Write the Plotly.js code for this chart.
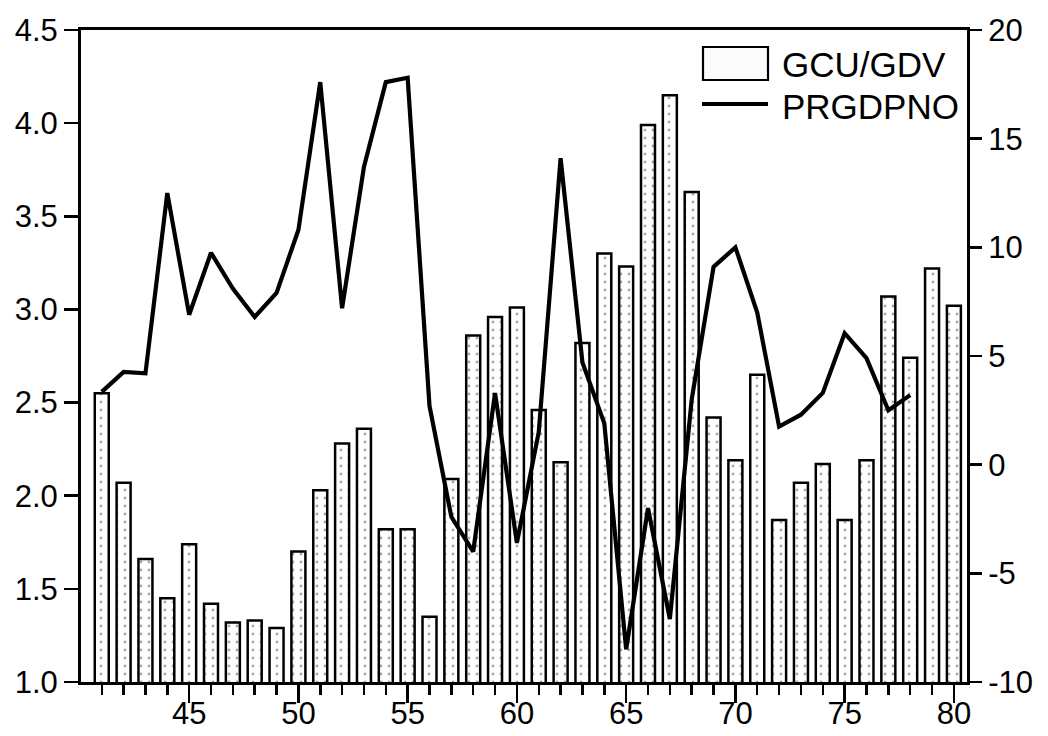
<!DOCTYPE html>
<html>
<head>
<meta charset="utf-8">
<script src="https://cdn.plot.ly/plotly-3.0.1.min.js"></script>
<style>
  html, body { margin: 0; padding: 0; background: #fff; }
  #chart { width: 1048px; height: 736px; }
</style>
</head>
<body>
<div id="chart"></div>
<script>
// Bars: GCU/GDV (left axis)
const barYears = [41,42,43,44,45,46,47,48,49,50,51,52,53,54,55,56,57,58,59,60,
                  61,62,63,64,65,66,67,68,69,70,71,72,73,74,75,76,77,78,79,80];
const gcuGdv = [2.55,2.07,1.66,1.45,1.74,1.42,1.32,1.33,1.29,1.70,
                2.03,2.28,2.36,1.82,1.82,1.35,2.09,2.86,2.96,3.01,
                2.46,2.18,2.82,3.30,3.23,3.99,4.15,3.63,2.42,2.19,
                2.65,1.87,2.07,2.17,1.87,2.19,3.07,2.74,3.22,3.02];

// Line: PRGDPNO (right axis)
const lineYears = [41,42,43,44,45,46,47,48,49,50,51,52,53,54,55,56,57,58,59,60,
                   61,62,63,64,65,66,67,68,69,70,71,72,73,74,75,76,77,78];
const prgdpno = [3.35,4.27,4.2,12.5,6.9,9.75,8.1,6.8,7.9,10.8,
                 17.6,7.2,13.7,17.6,17.8,2.7,-2.4,-4.0,3.3,-3.6,
                 1.5,14.1,4.7,1.9,-8.5,-2.0,-7.1,3.0,9.1,10.0,
                 7.0,1.75,2.3,3.3,6.05,4.9,2.5,3.2];

const xTickVals = [45,50,55,60,65,70,75,80];
const xTickText = ['45','50','55','60','65','70','75','80'];
const yTickVals = [1.0,1.5,2.0,2.5,3.0,3.5,4.0,4.5];
const yTickText = ['1.0','1.5','2.0','2.5','3.0','3.5','4.0','4.5'];
const y2TickVals = [-10,-5,0,5,10,15,20];
const y2TickText = ['-10','-5','0','5','10','15','20'];

const seriesNames = ['GCU/GDV', 'PRGDPNO'];

const FONT = 'Liberation Sans, Arial, Helvetica, sans-serif';

const traces = [
  {
    type: 'bar',
    name: seriesNames[0],
    x: barYears,
    y: gcuGdv,
    width: 0.64,
    yaxis: 'y',
    marker: {
      color: '#ffffff',
      line: { color: '#000000', width: 2.5 },
      pattern: { shape: '.', fgcolor: '#a8a8a8', bgcolor: '#ffffff', size: 8, solidity: 0.1 }
    },
    hoverinfo: 'x+y'
  },
  {
    type: 'scatter',
    mode: 'lines',
    name: seriesNames[1],
    x: lineYears,
    y: prgdpno,
    yaxis: 'y2',
    line: { color: '#000000', width: 4.2 },
    hoverinfo: 'x+y'
  }
];

// legend drawn manually (paper coords)
const L = 81, R = 967, T = 30, B = 682;
const px = v => (v - L) / (R - L);
const py = v => (B - v) / (B - T);

const layout = {
  width: 1048,
  height: 736,
  margin: { l: 81, r: 81, t: 30, b: 54, pad: 0 },
  paper_bgcolor: '#ffffff',
  plot_bgcolor: '#ffffff',
  showlegend: false,
  bargap: 0,
  font: { family: FONT, size: 30, color: '#000' },
  xaxis: {
    range: [40.05, 80.6],
    tickmode: 'array',
    tickvals: xTickVals,
    ticktext: xTickText,
    ticks: 'outside',
    ticklen: 18,
    tickwidth: 2.5,
    tickcolor: '#000',
    ticklabelstandoff: -16,
    showline: true,
    linewidth: 3,
    linecolor: '#000',
    mirror: true,
    showgrid: false,
    zeroline: false,
    tickfont: { family: FONT, size: 31, color: '#000' },
    minor: { tickmode: 'linear', tick0: 41, dtick: 1, ticks: 'outside', ticklen: 10, tickwidth: 2.5, tickcolor: '#000', showgrid: false }
  },
  yaxis: {
    range: [1.0, 4.5],
    tickmode: 'array',
    tickvals: yTickVals,
    ticktext: yTickText,
    ticks: 'outside',
    ticklen: 14,
    tickwidth: 2.5,
    tickcolor: '#000',
    showline: true,
    linewidth: 3,
    linecolor: '#000',
    showgrid: false,
    zeroline: false,
    tickfont: { family: FONT, size: 31, color: '#000' }
  },
  yaxis2: {
    range: [-10, 20],
    overlaying: 'y',
    side: 'right',
    tickmode: 'array',
    tickvals: y2TickVals,
    ticktext: y2TickText,
    ticks: 'outside',
    ticklen: 12,
    tickwidth: 2.5,
    tickcolor: '#000',
    showline: true,
    linewidth: 3,
    linecolor: '#000',
    showgrid: false,
    zeroline: false,
    tickfont: { family: FONT, size: 31, color: '#000' }
  },
  shapes: [
    { type: 'rect', xref: 'paper', yref: 'paper',
      x0: px(703), x1: px(768), y0: py(80), y1: py(47),
      line: { color: '#000', width: 2.2 }, fillcolor: '#fbfbfb', layer: 'above' },
    { type: 'line', xref: 'paper', yref: 'paper',
      x0: px(702), x1: px(768), y0: py(104), y1: py(104),
      line: { color: '#000', width: 4.2 }, layer: 'above' }
  ],
  annotations: [
    { xref: 'paper', yref: 'paper', x: px(780), y: py(64), xanchor: 'left', yanchor: 'middle',
      text: seriesNames[0], showarrow: false, font: { family: FONT, size: 35, color: '#000' } },
    { xref: 'paper', yref: 'paper', x: px(780), y: py(106), xanchor: 'left', yanchor: 'middle',
      text: seriesNames[1], showarrow: false, font: { family: FONT, size: 35, color: '#000' } }
  ]
};

Plotly.newPlot('chart', traces, layout, { displayModeBar: false, staticPlot: true });
</script>
</body>
</html>
